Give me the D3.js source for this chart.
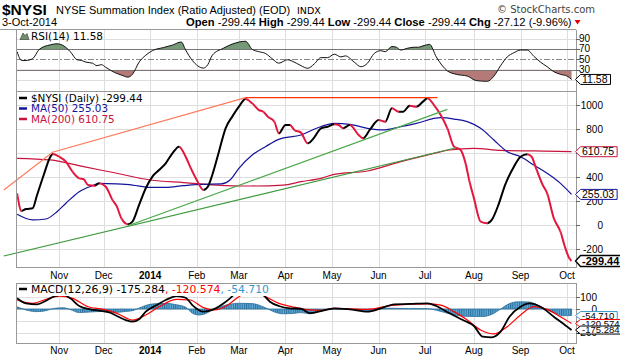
<!DOCTYPE html>
<html><head><meta charset="utf-8">
<script src="https://cdn.jsdelivr.net/npm/d3@7/dist/d3.min.js"></script>
<style>
body{margin:0;background:#fff}
svg{display:block}
text{font-family:Arial,"Liberation Sans",sans-serif;fill:#000}
.lg{font-family:"DejaVu Sans",Verdana,sans-serif}
</style>
</head><body>
<svg id="c" width="620" height="360"></svg>
<script>
// ---------- DATA (x = trading session number, 0 = 1-Oct-2013) ----------
const holidays = ["2013-11-28","2013-12-25","2014-01-01","2014-01-20","2014-02-17","2014-04-18","2014-05-26","2014-07-04","2014-09-01"];

const nysi = [[4,264],[6,117],[8,133],[11,139],[13,250],[16,417],[19,569],[20,592],[23,569],[26,528],[29,444],[32,389],[34,381],[36,333],[39,328],[41,347],[44,319],[47,208],[49,153],[51,56],[54,6],[56,28],[59,167],[62,306],[65,403],[68,458],[71,514],[74,597],[77,653],[80,569],[82,486],[85,375],[88,292],[90,319],[92,417],[95,611],[98,806],[101,903],[104,986],[107,1050],[110,1014],[113,958],[115,944],[117,903],[120,861],[122,764],[125,833],[127,833],[129,792],[132,770],[135,681],[138,730],[141,806],[144,819],[147,839],[149,833],[151,806],[154,833],[158,750],[160,722],[163,792],[167,875],[170,861],[173,972],[176,944],[178,944],[181,994],[184,986],[187,1028],[189,1056],[192,1000],[195,917],[198,806],[201,653],[204,625],[206,528],[208,361],[210,222],[213,28],[216,14],[218,42],[221,167],[224,333],[228,486],[231,569],[234,589],[236,569],[238,472],[241,333],[243,264],[246,56],[249,-56],[251,-181],[253,-278],[254,-299.44]];

const ma50 = [[4,89],[11,42],[17,50],[22,111],[26,181],[32,278],[38,328],[41,347],[49,342],[56,333],[64,314],[71,314],[79,328],[87,339],[96,342],[100,375],[104,472],[110,583],[116,653],[122,714],[132,750],[139,806],[147,847],[154,839],[162,806],[169,792],[177,819],[184,847],[195,894],[201,883],[207,861],[213,806],[219,708],[225,611],[231,569],[237,500],[243,431],[249,347],[254,255.03]];

const ma200 = [[4,556],[19,542],[34,486],[49,431],[64,375],[79,353],[94,333],[109,325],[124,333],[132,361],[141,389],[147,422],[162,450],[177,528],[192,597],[199,625],[210,639],[222,622],[237,617],[254,610.75]];

const trendUpper = [[-2,292],[20,606],[107,1061]];
const trendTop = [[107,1061],[193.5,1061]];
const trendSteep = [[54,-6],[198,964]];
const trendBase = [[-2,-258],[202,644]];

const rsi = [[4,64.8],[6,48],[8,48],[11,51.4],[14,69.4],[19,78],[22,80],[25,76],[28,64.8],[31,49.4],[33,48],[35,44.8],[38,42.8],[40,38],[42,40],[44,34.8],[48,24.8],[51,20],[54,16],[56,21.4],[59,44.8],[62,58],[65,66.8],[70,72.8],[74,77.4],[78,83.4],[80,68],[83,48],[88,33.4],[90,40],[92,58],[97,71.4],[101,79.4],[107,84.8],[110,69.4],[113,64.8],[116,61.4],[119,51.4],[122,42.8],[126,49.4],[128,46.8],[132,38],[135,33],[138,41.4],[141,53.4],[144,53.4],[147,60],[150,54.8],[152,56.8],[156,44.8],[159,36],[162,42.8],[165,61.4],[168,66.8],[170,64.8],[173,74.8],[175,73.4],[177,68],[180,71.4],[183,73.4],[185,73.4],[187,76],[190,78.8],[193,54.8],[198,28],[202,21.4],[207,18],[211,9.4],[216,8],[219,18],[222,38],[225,54.8],[228,62.8],[231,68],[234,68],[237,56],[240,44.8],[243,36],[246,26.4],[249,21.4],[252,18],[254,11.58]];

const macd = [[4,89],[8,47],[13,39],[17,69],[21,108],[25,117],[28,89],[32,25],[37,-3],[41,-14],[46,-31],[49,-58],[53,-92],[56,-106],[59,-86],[62,-22],[67,33],[71,75],[76,108],[80,94],[83,33],[88,-22],[92,-8],[96,33],[100,89],[104,158],[109,200],[115,117],[118,61],[122,25],[127,6],[132,2],[136,-34],[141,-18],[147,6],[154,-3],[162,-22],[168,6],[174,39],[181,42],[189,47],[193,25],[199,-36],[205,-92],[210,-142],[214,-231],[218,-236],[222,-189],[226,-64],[231,19],[235,47],[240,19],[246,-64],[252,-147],[254,-175.284]];

const signal = [[4,75],[11,47],[17,81],[23,108],[29,89],[36,19],[43,-3],[49,-36],[56,-92],[62,-50],[68,19],[76,81],[82,75],[88,11],[93,-8],[99,33],[104,103],[110,150],[116,103],[122,47],[128,19],[136,-8],[141,-12],[147,6],[162,-3],[174,33],[189,42],[195,33],[201,-22],[207,-92],[213,-175],[219,-208],[225,-147],[231,-50],[237,19],[243,-3],[249,-64],[254,-120.574]];

const hist = [[4,18],[8,-8],[13,-22],[17,-14],[21,6],[25,10],[28,-5],[32,-30],[37,-25],[43,-20],[49,-28],[53,-20],[56,-14],[59,8],[62,30],[67,45],[71,47],[76,35],[80,15],[83,-35],[86,-50],[88,-45],[92,-10],[96,22],[100,40],[104,48],[110,45],[116,10],[120,-25],[124,-40],[128,-38],[132,-30],[136,-40],[141,-15],[147,0],[154,-3],[162,-19],[168,6],[174,6],[181,3],[189,3],[193,-10],[199,-40],[204,-58],[208,-62],[214,-62],[218,-45],[222,0],[226,45],[230,60],[235,58],[239,30],[242,0],[246,-30],[250,-56],[254,-54.71]];

const rsiTicks = [90,70,50,30,10];
const mainTicks = [1000,800,600,400,200,0,-200];
const macdTicks = [100,0,-100,-200];
// tick labels that sit under a value tag in the reference (grid line drawn, label hidden)
const hiddenLabels = {rsi:[10], main:[600], macd:[-100]};

// ---------- LAYOUT ----------
const L = 16, R = 576, TOP = 29.5;
const svg = d3.select('#c');
const defs = svg.append('defs');

// trading calendar for the month axis
const sessions = [];
for (let d = new Date(Date.UTC(2013,9,1)); d <= new Date(Date.UTC(2014,9,31)); d.setUTCDate(d.getUTCDate()+1)) {
  const wd = d.getUTCDay(), iso = d.toISOString().slice(0,10);
  if (wd === 0 || wd === 6 || holidays.includes(iso)) continue;
  sessions.push(new Date(d));
}
const x = d3.scaleLinear().domain([3.5, 256]).range([L, R]);
const monthTicks = [];
sessions.forEach((d,i) => {
  if (i > 0 && d.getUTCMonth() !== sessions[i-1].getUTCMonth() && x(i) <= R) monthTicks.push({i, d});
});
const monthLabel = d => d.getUTCMonth() === 0 ? String(d.getUTCFullYear()) : d3.utcFormat('%b')(d);

const yR = d3.scaleLinear().domain([-10.6,107.4]).range([91,TOP]);
const yM = d3.scaleLinear().domain([-358.3,1116.7]).range([268,91]);
const yD = d3.scaleLinear().domain([-291.7,216.7]).range([344,283]);

const panels = [{y:yR, t:TOP, b:91, ticks:rsiTicks, ax:590, hide:hiddenLabels.rsi}, {y:yM, t:91, b:268, ticks:mainTicks, ax:603, hide:hiddenLabels.main}, {y:yD, t:283, b:344, ticks:macdTicks, ax:597, hide:hiddenLabels.macd}];

function clip(id, t, b) {
  defs.append('clipPath').attr('id', id).append('rect').attr('x', L).attr('y', t).attr('width', R-L).attr('height', b-t);
}
clip('cR', TOP, 91); clip('cM', 91, 268); clip('cD', 283, 344);

// grid
const grid = svg.append('g').attr('stroke', '#dedede').attr('stroke-width', 1).attr('shape-rendering','crispEdges');
panels.forEach(p => {
  monthTicks.forEach(m => grid.append('line').attr('x1', Math.round(x(m.i))+0.5).attr('x2', Math.round(x(m.i))+0.5).attr('y1', p.t).attr('y2', p.b));
  p.ticks.forEach(v => {
    if (p.y === yR && (v === 70 || v === 30 || v === 50)) return;
    grid.append('line').attr('x1', L).attr('x2', R).attr('y1', Math.round(p.y(v))+0.5).attr('y2', Math.round(p.y(v))+0.5);
  });
});

// ---------- RSI PANEL ----------
const gR = svg.append('g').attr('clip-path', 'url(#cR)');
const rsiLine = d3.line().x(d => x(d[0])).y(d => yR(d[1])).curve(d3.curveMonotoneX);
defs.append('clipPath').attr('id','above70').append('rect').attr('x',L).attr('y',TOP).attr('width',R-L).attr('height',yR(70)-TOP);
defs.append('clipPath').attr('id','below30').append('rect').attr('x',L).attr('y',yR(30)).attr('width',R-L).attr('height',91-yR(30));
gR.append('g').attr('clip-path','url(#above70)').append('path')
  .attr('d', d3.area().x(d=>x(d[0])).y0(yR(70)).y1(d=>yR(d[1])).curve(d3.curveMonotoneX)(rsi))
  .attr('fill', '#769976');
gR.append('g').attr('clip-path','url(#below30)').append('path')
  .attr('d', d3.area().x(d=>x(d[0])).y0(yR(30)).y1(d=>yR(d[1])).curve(d3.curveMonotoneX)(rsi))
  .attr('fill', '#b47a78');
[70,30].forEach(v => gR.append('line').attr('x1',L).attr('x2',R).attr('y1',Math.round(yR(v))+0.5).attr('y2',Math.round(yR(v))+0.5).attr('stroke','#777').attr('shape-rendering','crispEdges'));
gR.append('line').attr('x1',L).attr('x2',R).attr('y1',Math.round(yR(50))+0.5).attr('y2',Math.round(yR(50))+0.5)
  .attr('stroke','#888').attr('stroke-dasharray','6,2,2,2').attr('shape-rendering','crispEdges');
gR.append('path').attr('d', rsiLine(rsi)).attr('fill','none').attr('stroke','#111').attr('stroke-width',1);

// ---------- MAIN PANEL ----------
const gM = svg.append('g').attr('clip-path','url(#cM)');
const line = d3.line().x(d => x(d[0])).y(d => yM(d[1])).curve(d3.curveMonotoneX);
gM.append('path').attr('d', line(ma200)).attr('fill','none').attr('stroke','#c8143c').attr('stroke-width',1.2);
gM.append('path').attr('d', line(ma50)).attr('fill','none').attr('stroke','#14149a').attr('stroke-width',1.2);

// NYSI: black rising, red falling
const upClip = defs.append('clipPath').attr('id','upC');
const dnClip = defs.append('clipPath').attr('id','dnC');
for (let i = 0; i < nysi.length-1; i++) {
  const c = nysi[i+1][1] >= nysi[i][1] ? upClip : dnClip;
  c.append('rect').attr('x', x(nysi[i][0])).attr('y', 91).attr('width', x(nysi[i+1][0]) - x(nysi[i][0]) + 0.3).attr('height', 177);
}
gM.append('g').attr('clip-path','url(#upC)').append('path').attr('d', line(nysi)).attr('fill','none').attr('stroke','#000').attr('stroke-width',2);
gM.append('g').attr('clip-path','url(#dnC)').append('path').attr('d', line(nysi)).attr('fill','none').attr('stroke','#e3173e').attr('stroke-width',2);

// trendlines (not clipped – they start left of the plot)
const tl = d3.line().x(d => x(d[0])).y(d => yM(d[1]));
svg.append('path').attr('d', tl(trendBase)).attr('fill','none').attr('stroke','#3f9a3f').attr('stroke-width',1.2);
svg.append('path').attr('d', tl(trendSteep)).attr('fill','none').attr('stroke','#4aa84a').attr('stroke-width',1.2);
svg.append('path').attr('d', tl(trendUpper)).attr('fill','none').attr('stroke','#ff7a5c').attr('stroke-width',1.2);
svg.append('path').attr('d', tl(trendTop)).attr('fill','none').attr('stroke','#ff3300').attr('stroke-width',1.2);

// ---------- MACD PANEL ----------
const gD = svg.append('g').attr('clip-path','url(#cD)');
const pat = defs.append('pattern').attr('id','hp').attr('patternUnits','userSpaceOnUse').attr('width', x(1)-x(0)).attr('height', 10);
pat.append('rect').attr('width', x(1)-x(0)).attr('height',10).attr('fill','#62a9d6');
pat.append('rect').attr('width', 1).attr('height',10).attr('fill','#2a719f');
gD.append('path').attr('d', d3.area().x(d=>x(d[0])).y0(yD(0)).y1(d=>yD(d[1])).curve(d3.curveMonotoneX)(hist))
  .attr('fill','url(#hp)').attr('stroke','#2a6f9a').attr('stroke-width',0.8);
const dl = d3.line().x(d => x(d[0])).y(d => yD(d[1])).curve(d3.curveMonotoneX);
gD.append('path').attr('d', dl(signal)).attr('fill','none').attr('stroke','#ff0000').attr('stroke-width',1.2);
gD.append('path').attr('d', dl(macd)).attr('fill','none').attr('stroke','#000').attr('stroke-width',1.8);

// ---------- PANEL BORDERS & AXES ----------
const frame = svg.append('g').attr('stroke','#999').attr('fill','none').attr('shape-rendering','crispEdges');
frame.append('line').attr('x1',0).attr('x2',R).attr('y1',TOP).attr('y2',TOP);
frame.append('line').attr('x1',L+0.5).attr('x2',L+0.5).attr('y1',TOP).attr('y2',268);
frame.append('line').attr('x1',R+0.5).attr('x2',R+0.5).attr('y1',TOP).attr('y2',268);
frame.append('line').attr('x1',L).attr('x2',R).attr('y1',91.5).attr('y2',91.5);
frame.append('line').attr('x1',L).attr('x2',R).attr('y1',267.5).attr('y2',267.5);
frame.append('rect').attr('x',L+0.5).attr('y',283.5).attr('width',R-L).attr('height',60);

panels.forEach(p => {
  p.ticks.forEach(v => {
    svg.append('line').attr('x1',R).attr('x2',R+4).attr('y1',Math.round(p.y(v))+0.5).attr('y2',Math.round(p.y(v))+0.5).attr('stroke','#666').attr('shape-rendering','crispEdges');
    if (p.hide.includes(v)) return;
    svg.append('text').attr('x', p.ax).attr('y', p.y(v)+3.5).attr('font-size',10).attr('text-anchor','end').text(v);
  });
});

// month labels (between main & MACD, and below MACD)
[279, 354].forEach(yy => monthTicks.forEach(m => {
  svg.append('text').attr('x', x(m.i)).attr('y', yy).attr('text-anchor','middle').attr('font-size',10)
    .attr('font-weight', m.d.getUTCMonth()===0 ? 'bold' : null).text(monthLabel(m.d));
}));

// ---------- LEGENDS ----------
svg.append('path').attr('d','M20,39.5 L23,33 L25,35.5 L27,33.5 L29,39.5 Z').attr('fill','#6f906f').attr('stroke','#333').attr('stroke-width',0.6);
svg.append('text').attr('class','lg').attr('x',31).attr('y',40).attr('font-size',10.5).text('RSI(14) 11.58');

const leg = [['$NYSI (Daily) -299.44','#000',101.5],['MA(50) 255.03','#14149a',112],['MA(200) 610.75','#c8143c',122.5]];
leg.forEach(([t,c,yy]) => {
  svg.append('line').attr('x1',19).attr('x2',27).attr('y1',yy-3.5).attr('y2',yy-3.5).attr('stroke',c).attr('stroke-width',2.5);
  svg.append('text').attr('class','lg').attr('x',31).attr('y',yy).attr('font-size',10.4).style('fill',c).text(t);
});

const mg = svg.append('g');
const mbg = mg.append('rect').attr('x',17).attr('y',284).attr('height',12).attr('fill','#fff');
mg.append('line').attr('x1',19).attr('x2',27).attr('y1',289).attr('y2',289).attr('stroke','#000').attr('stroke-width',2.5);
const mt = mg.append('text').attr('class','lg').attr('x',31).attr('y',293).attr('font-size',10.8);
mt.append('tspan').text('MACD(12,26,9) -175.284');
mt.append('tspan').style('fill','#ff0000').text(', -120.574');
mt.append('tspan').style('fill','#3399cc').text(', -54.710');
mbg.attr('width', 31 + mt.node().getComputedTextLength() - 17 + 3);

// ---------- VALUE TAGS ----------
function tag(yv, text, color, opt) {
  const o = Object.assign({h:5, fs:10.5, bold:false}, opt || {});
  const g = svg.append('g');
  const p = g.append('path');
  const t = g.append('text').attr('x', 582).attr('y', yv + o.fs*0.36).attr('font-size', o.fs).attr('font-weight', o.bold ? 'bold' : null).text(text);
  const w = t.node().getComputedTextLength();
  p.attr('d', `M575.5,${yv} L580.5,${yv-o.h} H${583+w+2} V${yv+o.h} H580.5 Z`).attr('fill','#fff').attr('stroke',color).attr('stroke-width', o.bold ? 1.4 : 1);
}
tag(yR(11.58), '11.58', '#000');
tag(yM(610.75), '610.75', '#c8143c');
tag(yM(255.03), '255.03', '#14149a');
tag(yM(-299.44), '-299.44', '#000', {bold:true, fs:11, h:5.5});
tag(yD(-54.71), '-54.710', '#3399cc', {fs:9.5, h:4});
tag(yD(-120.574), '-120.574', '#ff0000', {fs:9.5, h:4});
tag(yD(-175.284), '-175.284', '#000', {fs:9.5, h:4});

// ---------- HEADER ----------
const hdr = svg.append('g');
hdr.append('text').attr('x',2).attr('y',14.5).attr('font-size',15.5).attr('font-weight','bold').text('$NYSI');
hdr.append('text').attr('x',56).attr('y',13.5).attr('font-size',11).text('NYSE Summation Index (Ratio Adjusted) (EOD)');
hdr.append('text').attr('class','lg').attr('x',297).attr('y',13.5).attr('font-size',9.5).text('INDX');
hdr.append('text').attr('class','lg').attr('x',497).attr('y',12.5).attr('font-size',10).style('fill','#444').text('© StockCharts.com');
hdr.append('text').attr('x',2).attr('y',26).attr('font-size',11).text('3-Oct-2014');
const q = hdr.append('text').attr('x',186).attr('y',26).attr('font-size',11.2);
[['Open',' -299.44 '],['High',' -299.44 '],['Low',' -299.44 '],['Close',' -299.44 '],['Chg',' -27.12 (-9.96%)']].forEach(([a,b]) => {
  q.append('tspan').attr('font-weight','bold').text(a);
  q.append('tspan').text(b);
});
const qe = 186 + q.node().getComputedTextLength();
hdr.append('path').attr('d', `M${qe+3},20 h6 l-3,4.5 Z`).attr('fill','#e00000');
</script>
</body></html>
